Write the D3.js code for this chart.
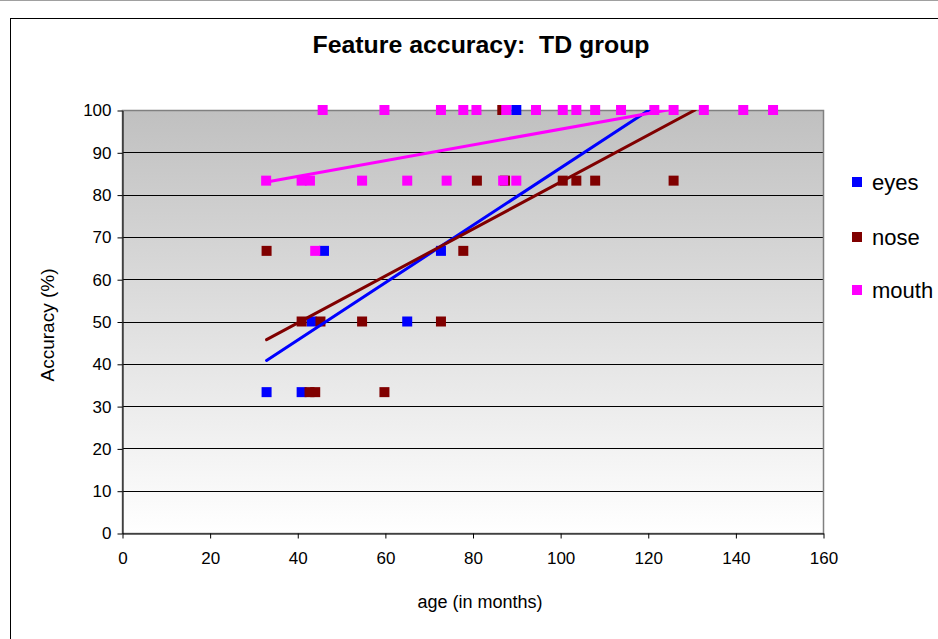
<!DOCTYPE html>
<html>
<head>
<meta charset="utf-8">
<script src="https://cdn.jsdelivr.net/npm/d3@7"></script>
<style>
  body { margin: 0; background: #fff; }
  text { font-family: Arial, "Liberation Sans", sans-serif; }
</style>
</head>
<body>
<div id="chart"></div>
<script>
// ages (months) and accuracy (%) per feature
var eyesAge = [33, 41, 43.3, 46.1, 65.1, 72.8, 90];
var eyesAcc = [33.3, 33.3, 50, 66.7, 50, 66.7, 100];

var noseAge = [33, 41, 42.8, 44.1, 45.3, 54.8, 59.9, 72.8, 77.9, 81, 87.4, 86.8, 100.6, 103.7, 108, 125.9];
var noseAcc = [66.7, 50, 33.3, 33.3, 50, 50, 33.3, 50, 66.7, 83.3, 83.3, 100, 83.3, 83.3, 83.3, 83.3];

var mouthAge = [45.8, 59.9, 72.8, 77.9, 80.9, 87.7, 94.5, 100.6, 103.7, 108, 113.9, 121.5, 125.9, 132.8, 141.8, 148.6,
                32.9, 41, 42.9, 54.8, 65.1, 74.1, 87, 90, 44.1];
var mouthAcc = [100, 100, 100, 100, 100, 100, 100, 100, 100, 100, 100, 100, 100, 100, 100, 100,
                83.3, 83.3, 83.3, 83.3, 83.3, 83.3, 83.3, 83.3, 66.7];

// linear trendline end points [age, accuracy]
var eyesTrend = [[33, 40.8], [120.3, 100]];
var noseTrend = [[33, 45.7], [130.8, 100]];
var mouthTrend = [[33, 83.0], [124.5, 100]];

var seriesNames = ["eyes", "nose", "mouth"];
var seriesColors = ["#0000ff", "#800000", "#ff00ff"];

var xTicks = [0, 20, 40, 60, 80, 100, 120, 140, 160];
var yTicks = [0, 10, 20, 30, 40, 50, 60, 70, 80, 90, 100];

var width = 938, height = 639;

var svg = d3.select("#chart").append("svg")
  .attr("width", width)
  .attr("height", height);

svg.append("rect").attr("width", width).attr("height", height).attr("fill", "#fff");
svg.append("line").attr("x1", 0).attr("x2", width).attr("y1", 0.5).attr("y2", 0.5)
  .attr("stroke", "#a0a0a0");
svg.append("rect")
  .attr("x", 10.5).attr("y", 18.5).attr("width", 1000).attr("height", 1000)
  .attr("fill", "none").attr("stroke", "#000");

var x = d3.scaleLinear().domain([0, 160]).range([122, 823]);
var y = d3.scaleLinear().domain([0, 100]).range([533, 110]);

var defs = svg.append("defs");
var grad = defs.append("linearGradient").attr("id", "bg")
  .attr("x1", 0).attr("y1", 0).attr("x2", 0).attr("y2", 1);
grad.append("stop").attr("offset", "0%").attr("stop-color", "#c0c0c0");
grad.append("stop").attr("offset", "100%").attr("stop-color", "#ffffff");

defs.append("clipPath").attr("id", "plotClip")
  .append("rect")
  .attr("x", x(0)).attr("y", y(100))
  .attr("width", x(160) - x(0)).attr("height", y(0) - y(100));

svg.append("rect")
  .attr("x", x(0)).attr("y", y(100))
  .attr("width", x(160) - x(0)).attr("height", y(0) - y(100))
  .attr("fill", "url(#bg)");

// gridlines
svg.append("g").selectAll("line")
  .data(yTicks.filter(function(d) { return d > 0 && d < 100; }))
  .enter().append("line")
    .attr("x1", x(0)).attr("x2", x(160))
    .attr("y1", function(d) { return Math.round(y(d)) + 0.5; })
    .attr("y2", function(d) { return Math.round(y(d)) + 0.5; })
    .attr("stroke", "#000").attr("stroke-width", 1);

// plot border
svg.append("rect")
  .attr("x", x(0) + 0.5).attr("y", y(100) + 0.5)
  .attr("width", x(160) - x(0)).attr("height", y(0) - y(100))
  .attr("fill", "none").attr("stroke", "#808080").attr("stroke-width", 1.5);

// axes
var yAxis = svg.append("g")
  .attr("transform", "translate(" + (x(0) + 0.5) + ",0.5)")
  .call(d3.axisLeft(y).tickValues(yTicks).tickSize(5).tickSizeOuter(0).tickPadding(6));
var xAxis = svg.append("g")
  .attr("transform", "translate(0.5," + (y(0) + 0.5) + ")")
  .call(d3.axisBottom(x).tickValues(xTicks).tickSize(5).tickSizeOuter(0).tickPadding(13));

[xAxis, yAxis].forEach(function(ax) {
  ax.selectAll("path").attr("stroke", "#000");
  ax.selectAll("line").attr("stroke", "#000");
  ax.selectAll("text")
    .attr("font-size", 17)
    .attr("font-family", "Arial, 'Liberation Sans', sans-serif")
    .attr("fill", "#000");
});

// points
var ages = [eyesAge, noseAge, mouthAge];
var accs = [eyesAcc, noseAcc, mouthAcc];
var trends = [eyesTrend, noseTrend, mouthTrend];
var size = 10;

var marks = svg.append("g");
ages.forEach(function(a, i) {
  marks.append("g").selectAll("rect")
    .data(a.map(function(v, j) { return [v, accs[i][j]]; }))
    .enter().append("rect")
      .attr("x", function(d) { return x(d[0]) - size / 2; })
      .attr("y", function(d) { return y(d[1]) - size / 2; })
      .attr("width", size).attr("height", size)
      .attr("fill", seriesColors[i]);
});

// trendlines
var line = d3.line()
  .x(function(d) { return x(d[0]); })
  .y(function(d) { return y(d[1]); });

var trendG = svg.append("g").attr("clip-path", "url(#plotClip)");
trends.forEach(function(t, i) {
  trendG.append("path")
    .attr("d", line(t))
    .attr("fill", "none")
    .attr("stroke", seriesColors[i])
    .attr("stroke-width", 3)
    .attr("stroke-linecap", "round");
});

// titles
svg.append("text")
  .attr("x", 481).attr("y", 53)
  .attr("text-anchor", "middle")
  .attr("font-size", 23).attr("font-weight", "bold")
  .style("white-space", "pre")
  .attr("textLength", 337).attr("lengthAdjust", "spacingAndGlyphs")
  .text("Feature accuracy:  TD group");

svg.append("text")
  .attr("x", 480).attr("y", 608)
  .attr("text-anchor", "middle")
  .attr("font-size", 18)
  .text("age (in months)");

svg.append("text")
  .attr("transform", "translate(54,325) rotate(-90)")
  .attr("text-anchor", "middle")
  .attr("font-size", 19)
  .text("Accuracy (%)");

// legend
var legend = svg.append("g");
var legendY = [182, 237, 290];
seriesNames.forEach(function(name, i) {
  legend.append("rect")
    .attr("x", 852).attr("y", legendY[i] - 5)
    .attr("width", 10).attr("height", 10)
    .attr("fill", seriesColors[i]);
  legend.append("text")
    .attr("x", 872).attr("y", legendY[i] + 8)
    .attr("font-size", 22)
    .text(name);
});
</script>
</body>
</html>
